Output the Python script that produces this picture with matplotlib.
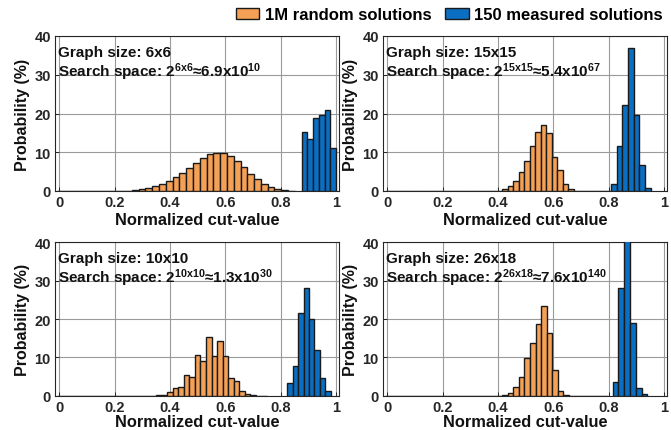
import numpy as np
import matplotlib
matplotlib.use("Agg")
import matplotlib.pyplot as plt
from matplotlib.patches import Patch

plt.rcParams['font.family'] = ['Liberation Sans', 'DejaVu Sans']
plt.rcParams['font.weight'] = 'bold'
plt.rcParams['mathtext.default'] = 'regular'

ORANGE = '#F4A055'
BLUE = '#0A6EC2'
EDGE = '#1a1a1a'
TXT = '#262626'

# ---- data (percent) ----
# Panel: 6x6
p1_orange_first = -0.007
p1_orange_width = 0.0245
p1_orange = [0, 0, 0, 0, 0, 0, 0, 0, 0, 0,
             0.1, 0.25, 0.5, 0.8, 1.2, 1.7, 2.6, 3.65, 4.7, 5.9, 7.2, 8.5, 9.5, 9.9,
             9.7, 9.0, 7.8, 6.1, 4.5, 3.1, 1.9, 1.0, 0.4, 0.15, 0.05]
p1_blue_first = 0.875
p1_blue_width = 0.0207
p1_blue = [15.3, 13.3, 18.9, 19.6, 20.9, 11.2]

# Panel: 15x15
p2_orange_first = -0.003
p2_orange_width = 0.0199
p2_orange = [0] * 21 + [0.6, 1.3, 2.7, 4.9, 7.8, 11.6, 15.2, 17.1, 15.0, 8.7, 5.3, 1.9, 0.6] + [0] * 7
p2_blue_first = 0.8078
p2_blue_width = 0.0205
p2_blue = [1.7, 11.5, 22.2, 37.0, 19.7, 6.6, 0.8]

# Panel: 10x10
p3_orange_first = -0.0073
p3_orange_width = 0.0199
p3_orange = [0] * 17 + [0.05, 0.15, 0.3, 0.9, 1.9, 2.2, 5.3, 5.0, 10.6, 9.0, 15.4, 10.4, 14.2,
                        10.4, 4.5, 3.9, 1.1, 0.5, 0.1] + [0] * 2
p3_blue_first = 0.823
p3_blue_width = 0.0197
p3_blue = [3.2, 7.8, 21.5, 28.1, 20.0, 12.0, 4.6, 1.3]

# Panel: 26x18
p4_orange_first = -0.0072
p4_orange_width = 0.0201
p4_orange = [0] * 21 + [0.1, 0.6, 2.2, 5.0, 9.8, 13.7, 18.6, 23.5, 16.4, 6.7, 1.3, 0.1] + [0] * 7
p4_blue_first = 0.8136
p4_blue_width = 0.0209
p4_blue = [3.7, 28.0, 47.0, 19.0, 1.9, 0.4]

titles = ["Graph size: 6x6", "Graph size: 15x15", "Graph size: 10x10", "Graph size: 26x18"]
subtitles = [r"Search space: $2^{6x6}$≈6.9x$10^{10}$",
             r"Search space: $2^{15x15}$≈5.4x$10^{67}$",
             r"Search space: $2^{10x10}$≈1.3x$10^{30}$",
             r"Search space: $2^{26x18}$≈7.6x$10^{140}$"]
xticks = [0, 0.2, 0.4, 0.6, 0.8, 1]
xticklabels = ['0', '0.2', '0.4', '0.6', '0.8', '1']
yticks = [0, 10, 20, 30, 40]

panels = [
    (p1_orange_first, p1_orange_width, p1_orange, p1_blue_first, p1_blue_width, p1_blue),
    (p2_orange_first, p2_orange_width, p2_orange, p2_blue_first, p2_blue_width, p2_blue),
    (p3_orange_first, p3_orange_width, p3_orange, p3_blue_first, p3_blue_width, p3_blue),
    (p4_orange_first, p4_orange_width, p4_orange, p4_blue_first, p4_blue_width, p4_blue),
]

W, H = 671, 431
fig = plt.figure(figsize=(W / 100, H / 100), dpi=100)

positions = [
    (55, 37, 284, 155),
    (383, 37, 284, 155),
    (55, 243.3, 284, 153.4),
    (383, 243.3, 284, 153.4),
]

for i, ((of, ow, ov, bf, bw, bv), (px, py, pw, ph)) in enumerate(zip(panels, positions)):
    ax = fig.add_axes([px / W, 1 - (py + ph) / H, pw / W, ph / H])
    ox = of + ow * (np.arange(len(ov)))
    bx = bf + bw * (np.arange(len(bv)))
    ax.bar(ox, ov, width=ow, align='edge', color=ORANGE, edgecolor=EDGE, linewidth=1.0, zorder=3)
    ax.bar(bx, bv, width=bw, align='edge', color=BLUE, edgecolor=EDGE, linewidth=1.0, zorder=3)
    ax.set_xlim(-0.015, 1.01)
    ax.set_ylim(0, 40)
    ax.set_xticks(xticks)
    ax.set_xticklabels(xticklabels)
    ax.set_yticks(yticks)
    ax.grid(True, color='#9a9a9a', linewidth=0.8, zorder=0)
    ax.tick_params(direction='in', length=3, width=0.7, colors=TXT, labelsize=10.5, pad=3)
    for lab in ax.get_xticklabels() + ax.get_yticklabels():
        lab.set_fontweight('bold')
    for s in ax.spines.values():
        s.set_color(TXT)
        s.set_linewidth(0.8)
    ax.set_xlabel("Normalized cut-value", fontsize=11.8, fontweight='bold', color='#111111',
                  labelpad=2 if i < 2 else 0)
    ax.set_ylabel("Probability (%)", fontsize=11.5, fontweight='bold', color='#111111', labelpad=3)
    ax.text(0.012, 0.90, titles[i], transform=ax.transAxes, fontsize=11, fontweight='bold',
            va='center', ha='left', color='#111111', zorder=5)
    ax.text(0.012, 0.775, subtitles[i], transform=ax.transAxes, fontsize=11, fontweight='bold',
            va='center', ha='left', color='#111111', zorder=5)

handles = [Patch(facecolor=ORANGE, edgecolor=EDGE, linewidth=1.0, label='1M random solutions'),
           Patch(facecolor=BLUE, edgecolor=EDGE, linewidth=1.0, label='150 measured solutions')]
fig.legend(handles=handles, loc='center right', bbox_to_anchor=(663 / W, 1 - 16 / H), ncol=2,
           frameon=False, prop={'size': 12, 'weight': 'bold'}, handlelength=1.4, handleheight=0.6,
           handletextpad=0.35, columnspacing=0.8, borderaxespad=0, borderpad=0)

fig.savefig("out.png", dpi=100)
